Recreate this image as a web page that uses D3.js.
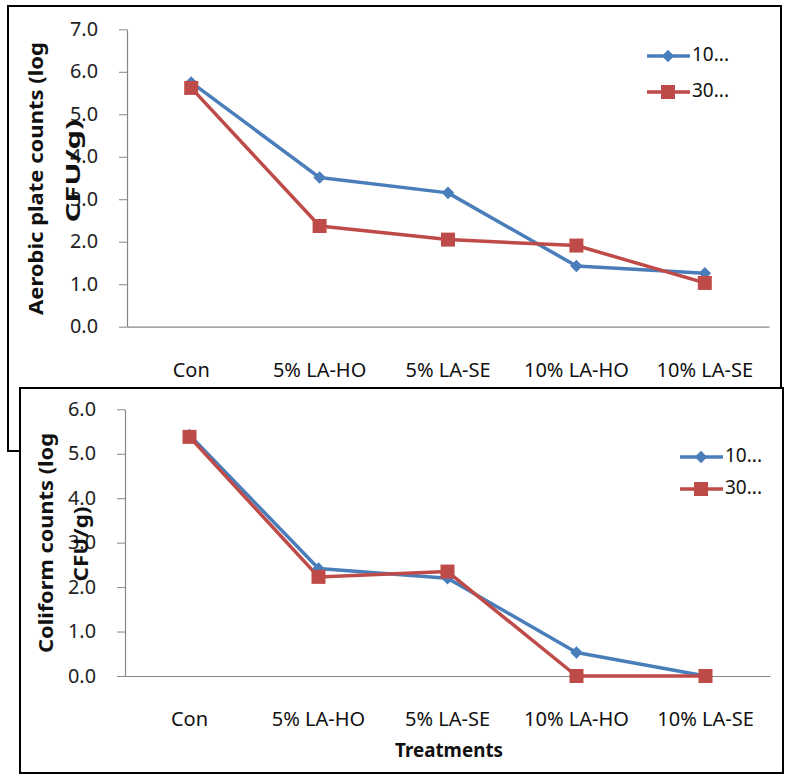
<!DOCTYPE html>
<html><head><meta charset="utf-8">
<script src="https://cdn.jsdelivr.net/npm/d3@7"></script>
<style>body{margin:0;background:#fff}svg{display:block}text{font-family:"Noto Sans","DejaVu Sans",sans-serif}</style>
</head><body>
<script>
const categories = ["Con","5% LA-HO","5% LA-SE","10% LA-HO","10% LA-SE"];
const seriesNames = ["10...","30..."];
const aerobic10 = [5.75,3.51,3.15,1.43,1.26];
const aerobic30 = [5.62,2.37,2.05,1.91,1.03];
const coliform10 = [5.42,2.42,2.20,0.53,0.0];
const coliform30 = [5.38,2.23,2.35,0.0,0.0];
const aerobicTicks = [0,1,2,3,4,5,6,7];
const coliformTicks = [0,1,2,3,4,5,6];
const colors = ["#4a7ebb","#be4b48"];

const svg = d3.select("body").append("svg").attr("width",787).attr("height",775);

svg.append("rect").attr("x",8).attr("y",6).attr("width",773).attr("height",445)
  .attr("fill","#fff").attr("stroke","#000").attr("stroke-width",2);

const diamond = d3.symbol().type(d3.symbolDiamond2).size(100)();
const square = d3.symbol().type(d3.symbolSquare).size(196)();

function vtext(g, cx, cy, str, len, size){
  g.append("text").attr("transform",`translate(${cx},${cy}) rotate(-90)`)
    .attr("text-anchor","middle").attr("font-weight","bold").attr("font-size",size).attr("fill","#111")
    .attr("textLength",len).attr("lengthAdjust","spacingAndGlyphs").text(str);
}

function drawChart(g, opts){
  const x = d3.scaleBand().domain(categories).range([opts.x0,opts.x1]);
  const y = d3.scaleLinear().domain([0,opts.ymax]).range([opts.yb,opts.yt]);
  const ya = g.append("g").attr("transform",`translate(${opts.x0},0)`)
    .call(d3.axisLeft(y).tickValues(opts.ticks).tickFormat(d3.format(".1f")).tickSize(8).tickSizeOuter(0));
  ya.select(".domain").attr("stroke","#868686").attr("stroke-width",1.2);
  ya.selectAll(".tick line").attr("stroke","#868686");
  ya.selectAll(".tick text").attr("font-size",19).attr("fill","#222").attr("x",-29)
    .attr("font-family","'Noto Sans',sans-serif").attr("textLength",28).attr("lengthAdjust","spacingAndGlyphs");
  const xa = g.append("g").attr("transform",`translate(0,${opts.yb})`)
    .call(d3.axisBottom(x).tickSize(0).tickSizeOuter(0));
  xa.select(".domain").attr("stroke","#868686").attr("stroke-width",1.2);
  xa.selectAll(".tick text").attr("font-size",20).attr("fill","#111").attr("dy",0)
    .attr("font-family","'Noto Sans',sans-serif")
    .attr("y",opts.labelDy).attr("dominant-baseline","middle");
  const series = [opts.s1, opts.s2];
  const line = d3.line().x((d,i)=>x(categories[i])+x.bandwidth()/2).y(d=>y(d));
  series.forEach((s,k)=>{
    g.append("path").datum(s).attr("d",line).attr("fill","none")
      .attr("stroke",colors[k]).attr("stroke-width",3.5).attr("stroke-linejoin","round");
  });
  series.forEach((s,k)=>{
    g.selectAll(null).data(s).enter().append("path")
      .attr("transform",(d,i)=>`translate(${x(categories[i])+x.bandwidth()/2},${y(d)})`)
      .attr("d", k===0 ? diamond : square)
      .attr("fill",colors[k]);
  });
  vtext(g, opts.t1x, opts.t1y, opts.title1, opts.t1len, 20);
  vtext(g, opts.t2x, opts.t2y, "CFU/g)", opts.t2len, 20);
  seriesNames.forEach((n,k)=>{
    const ly = opts.legY + k*opts.legGap;
    g.append("line").attr("x1",opts.legX).attr("x2",opts.legX+43).attr("y1",ly).attr("y2",ly)
      .attr("stroke",colors[k]).attr("stroke-width",3.5);
    g.append("path").attr("transform",`translate(${opts.legX+21},${ly})`)
      .attr("d", k===0 ? diamond : square).attr("fill",colors[k]);
    g.append("text").attr("x",opts.legX+45).attr("y",ly).attr("dominant-baseline","middle")
      .attr("font-size",19).attr("fill","#111").text(n);
  });
}

drawChart(svg.append("g"), {x0:127,x1:769,yt:29.3,yb:326.7,ymax:7,ticks:aerobicTicks,
  s1:aerobic10,s2:aerobic30,labelDy:45,
  t1x:43,t1y:178.5,t1len:273,t2x:80,t2y:171,t2len:103,title1:"Aerobic plate counts (log",
  legX:647,legY:56,legGap:36});

svg.append("rect").attr("x",20).attr("y",388).attr("width",763).attr("height",385)
  .attr("fill","#fff").attr("stroke","#000").attr("stroke-width",2);

drawChart(svg.append("g"), {x0:125,x1:770,yt:409.3,yb:676,ymax:6,ticks:coliformTicks,
  s1:coliform10,s2:coliform30,labelDy:45,
  t1x:53,t1y:543,t1len:220,t2x:88,t2y:544,t2len:75,title1:"Coliform counts (log",
  legX:680,legY:457,legGap:32});

svg.append("text").attr("x",449).attr("y",752).attr("text-anchor","middle").attr("dominant-baseline","middle")
  .attr("font-weight","bold").attr("font-size",20).attr("fill","#111")
  .attr("textLength",108).attr("lengthAdjust","spacingAndGlyphs").text("Treatments");
</script>
</body></html>
